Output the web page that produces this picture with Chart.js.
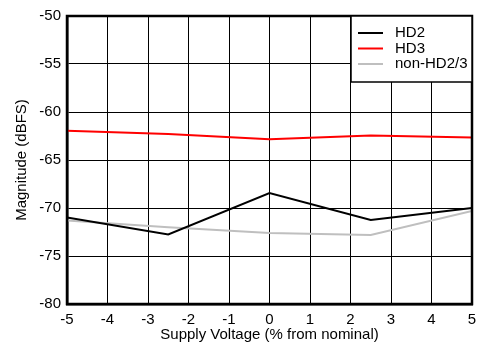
<!DOCTYPE html>
<html>
<head>
<meta charset="utf-8">
<script src="https://cdn.jsdelivr.net/npm/chart.js@4/dist/chart.umd.min.js"></script>
<style>
  html, body { margin: 0; padding: 0; background: #fff; }
  #wrap { width: 477px; height: 344px; }
</style>
</head>
<body>
<div id="wrap"><canvas id="chart"></canvas></div>
<script>
const supplyPct = [-5, -2.5, 0, 2.5, 5];
const hd2 = [-71.0, -72.75, -68.45, -71.25, -70.0];
const hd3 = [-61.95, -62.3, -62.85, -62.45, -62.65];
const nonHd = [-71.3, -72.0, -72.6, -72.8, -70.3];
const seriesNames = ['HD2', 'HD3', 'non-HD2/3'];
const seriesColors = ['#000000', '#ff0000', '#bfbfbf'];

const FONT = 'Liberation Sans, Arial, sans-serif';

function toPoints(values) {
  return supplyPct.map((x, i) => ({ x: x, y: values[i] }));
}

// legend box drawn inside the plot, top right
const boxLegend = {
  id: 'boxLegend',
  afterDraw(chart) {
    const ctx = chart.ctx;
    const area = chart.chartArea;
    const w = 121, h = 66;
    const x0 = area.right - w, y0 = area.top;
    ctx.save();
    ctx.fillStyle = '#fff';
    ctx.fillRect(x0, y0, w, h);
    ctx.strokeStyle = '#000';
    ctx.lineWidth = 1.5;
    ctx.strokeRect(x0, y0, w, h);
    ctx.font = '15px ' + FONT;
    ctx.textBaseline = 'middle';
    chart.data.datasets.forEach((ds, i) => {
      const y = y0 + 17 + i * 15.5;
      ctx.strokeStyle = ds.borderColor;
      ctx.lineWidth = 2;
      ctx.beginPath();
      ctx.moveTo(x0 + 7, y);
      ctx.lineTo(x0 + 32, y);
      ctx.stroke();
      ctx.fillStyle = '#000';
      ctx.fillText(ds.label, x0 + 44, y);
    });
    ctx.restore();
  }
};

const datasets = [hd2, hd3, nonHd].map((vals, i) => ({
  label: seriesNames[i],
  data: toPoints(vals),
  borderColor: seriesColors[i],
  backgroundColor: seriesColors[i],
  borderWidth: 2,
  pointRadius: 0,
  tension: 0,
  fill: false
}));

new Chart(document.getElementById('chart'), {
  type: 'line',
  data: { datasets: datasets },
  options: {
    responsive: true,
    maintainAspectRatio: false,
    animation: false,
    layout: { padding: { top: 16, right: 5, left: 13, bottom: 0 } },
    plugins: {
      legend: { display: false },
      tooltip: { enabled: false }
    },
    scales: {
      x: {
        type: 'linear',
        min: -5,
        max: 5,
        afterFit(scale) {
          scale.height = 40;
          scale.paddingLeft = 0;
          scale.paddingRight = 0;
        },
        ticks: { stepSize: 1, color: '#000', font: { family: FONT, size: 15 }, padding: 7, maxRotation: 0 },
        grid: { color: '#000', lineWidth: 1, drawTicks: false },
        border: { display: true, color: '#000', width: 2.5 },
        title: { display: true, text: 'Supply Voltage (% from nominal)', color: '#000', font: { family: FONT, size: 15 }, padding: { top: 0, bottom: 0 } }
      },
      y: {
        min: -80,
        max: -50,
        afterFit(scale) { scale.width = 54; },
        ticks: { stepSize: 5, color: '#000', font: { family: FONT, size: 15 }, padding: 6 },
        grid: { color: '#000', lineWidth: 1, drawTicks: false },
        border: { display: true, color: '#000', width: 2.5 },
        title: { display: true, text: 'Magnitude (dBFS)', color: '#000', font: { family: FONT, size: 15 }, padding: { top: 0, bottom: 0 } }
      }
    }
  },
  plugins: [boxLegend, {
    id: 'frame',
    afterDatasetsDraw(chart) {
      const a = chart.chartArea;
      const ctx = chart.ctx;
      ctx.save();
      ctx.strokeStyle = '#000';
      ctx.lineWidth = 2.5;
      ctx.strokeRect(a.left, a.top, a.right - a.left, a.bottom - a.top);
      ctx.restore();
    }
  }]
});
</script>
</body>
</html>
